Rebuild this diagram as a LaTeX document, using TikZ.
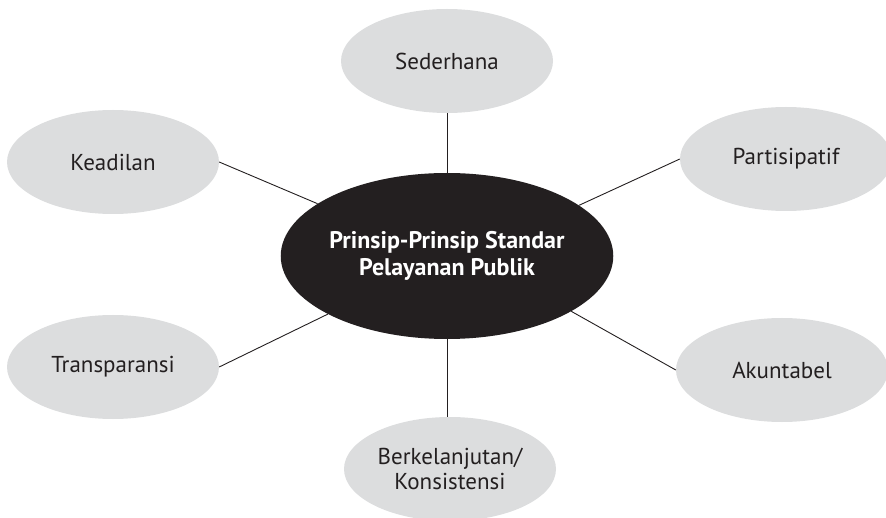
\documentclass[tikz,border=0pt]{standalone}
\usepackage{fontspec}
\setmainfont{PT Sans}
\usetikzlibrary{shapes.geometric}
\definecolor{outerfill}{HTML}{DCDDDE}
\definecolor{inkdark}{HTML}{231F20}
\tikzset{
  outer/.style={ellipse, fill=outerfill, draw=none, inner sep=0pt,
    minimum width=212pt, minimum height=104pt, text=inkdark,
    font=\fontsize{23}{25}\selectfont, align=center},
  hub/.style={ellipse, fill=inkdark, draw=none, inner sep=0pt,
    minimum width=286pt, minimum height=166pt, text=white,
    font=\bfseries\fontsize{24}{27}\selectfont, align=center},
  link/.style={draw=inkdark, line width=0.9pt}
}
\begin{document}
\begin{tikzpicture}[x=1pt,y=-1pt]
\useasboundingbox (0,0) rectangle (886,518);
\node[hub] (c) at (447,256) {Prinsip-Prinsip Standar\\Pelayanan Publik};
\node[outer] (sed) at (447,61) {Sederhana};
\node[outer] (kea) at (113,162) {Keadilan};
\node[outer] (tra) at (113,367) {Transparansi};
\node[outer] (par) at (786,159) {Partisipatif};
\node[outer] (aku) at (782,370) {Akuntabel};
\node[outer] (ber) at (450,469) {Berkelanjutan/\\Konsistensi};
\draw[link] (sed.south) -- (c.north);
\draw[link] (c.south) -- (ber.north -| c.south);
\draw[link] (kea.east) -- (c.158);
\draw[link] (tra.east) -- (c.206);
\draw[link] (par.west) -- (c.21);
\draw[link] (aku.west) -- (c.-24);
\end{tikzpicture}
\end{document}
